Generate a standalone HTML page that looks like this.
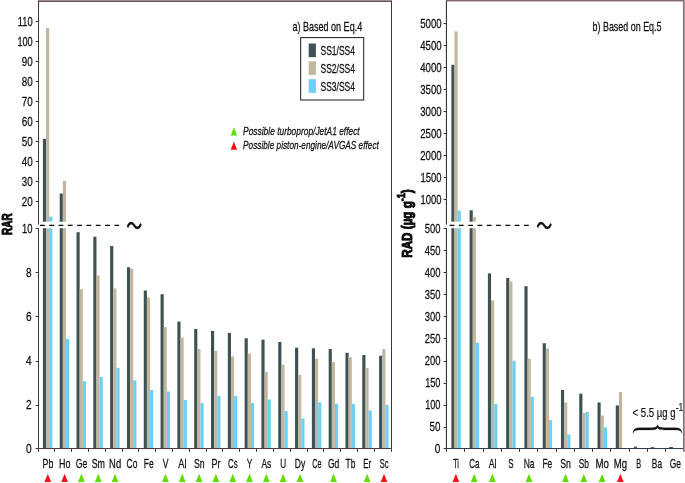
<!DOCTYPE html>
<html lang="en"><head><meta charset="utf-8"><title>RAR and RAD bar charts</title>
<style>
html,body{margin:0;padding:0;background:#fff;}
svg{display:block;font-family:"Liberation Sans", sans-serif;will-change:transform;filter:grayscale(0);}
text{stroke:currentColor;stroke-width:0.27px;stroke-linejoin:round;}
</style></head><body>
<svg width="685" height="483" viewBox="0 0 685 483">
<rect width="685" height="483" fill="#fff"/>
<g id="panelA">
<rect x="42.90" y="138.80" width="3.15" height="309.75" fill="#3e5254"/>
<rect x="46.05" y="28.00" width="3.15" height="420.55" fill="#c2b69e"/>
<rect x="49.20" y="216.70" width="3.15" height="231.85" fill="#6dcff6"/>
<rect x="59.71" y="193.60" width="3.15" height="254.95" fill="#3e5254"/>
<rect x="62.86" y="181.00" width="3.15" height="267.55" fill="#c2b69e"/>
<rect x="66.01" y="338.90" width="3.15" height="109.65" fill="#6dcff6"/>
<rect x="76.52" y="232.20" width="3.15" height="216.35" fill="#3e5254"/>
<rect x="79.67" y="289.20" width="3.15" height="159.35" fill="#c2b69e"/>
<rect x="82.82" y="381.20" width="3.15" height="67.35" fill="#6dcff6"/>
<rect x="93.33" y="236.70" width="3.15" height="211.85" fill="#3e5254"/>
<rect x="96.48" y="275.40" width="3.15" height="173.15" fill="#c2b69e"/>
<rect x="99.63" y="376.90" width="3.15" height="71.65" fill="#6dcff6"/>
<rect x="110.14" y="246.00" width="3.15" height="202.55" fill="#3e5254"/>
<rect x="113.29" y="288.40" width="3.15" height="160.15" fill="#c2b69e"/>
<rect x="116.44" y="367.80" width="3.15" height="80.75" fill="#6dcff6"/>
<rect x="126.95" y="267.30" width="3.15" height="181.25" fill="#3e5254"/>
<rect x="130.10" y="268.80" width="3.15" height="179.75" fill="#c2b69e"/>
<rect x="133.25" y="380.40" width="3.15" height="68.15" fill="#6dcff6"/>
<rect x="143.76" y="290.50" width="3.15" height="158.05" fill="#3e5254"/>
<rect x="146.91" y="297.50" width="3.15" height="151.05" fill="#c2b69e"/>
<rect x="150.06" y="390.00" width="3.15" height="58.55" fill="#6dcff6"/>
<rect x="160.57" y="294.20" width="3.15" height="154.35" fill="#3e5254"/>
<rect x="163.72" y="327.10" width="3.15" height="121.45" fill="#c2b69e"/>
<rect x="166.87" y="391.50" width="3.15" height="57.05" fill="#6dcff6"/>
<rect x="177.38" y="321.60" width="3.15" height="126.95" fill="#3e5254"/>
<rect x="180.53" y="337.70" width="3.15" height="110.85" fill="#c2b69e"/>
<rect x="183.68" y="400.00" width="3.15" height="48.55" fill="#6dcff6"/>
<rect x="194.19" y="328.90" width="3.15" height="119.65" fill="#3e5254"/>
<rect x="197.34" y="349.00" width="3.15" height="99.55" fill="#c2b69e"/>
<rect x="200.49" y="403.00" width="3.15" height="45.55" fill="#6dcff6"/>
<rect x="211.00" y="330.90" width="3.15" height="117.65" fill="#3e5254"/>
<rect x="214.15" y="350.80" width="3.15" height="97.75" fill="#c2b69e"/>
<rect x="217.30" y="396.00" width="3.15" height="52.55" fill="#6dcff6"/>
<rect x="227.81" y="332.90" width="3.15" height="115.65" fill="#3e5254"/>
<rect x="230.96" y="356.50" width="3.15" height="92.05" fill="#c2b69e"/>
<rect x="234.11" y="396.00" width="3.15" height="52.55" fill="#6dcff6"/>
<rect x="244.62" y="338.20" width="3.15" height="110.35" fill="#3e5254"/>
<rect x="247.77" y="353.50" width="3.15" height="95.05" fill="#c2b69e"/>
<rect x="250.92" y="403.00" width="3.15" height="45.55" fill="#6dcff6"/>
<rect x="261.43" y="339.70" width="3.15" height="108.85" fill="#3e5254"/>
<rect x="264.58" y="372.10" width="3.15" height="76.45" fill="#c2b69e"/>
<rect x="267.73" y="399.50" width="3.15" height="49.05" fill="#6dcff6"/>
<rect x="278.24" y="342.00" width="3.15" height="106.55" fill="#3e5254"/>
<rect x="281.39" y="364.60" width="3.15" height="83.95" fill="#c2b69e"/>
<rect x="284.54" y="411.00" width="3.15" height="37.55" fill="#6dcff6"/>
<rect x="295.05" y="347.70" width="3.15" height="100.85" fill="#3e5254"/>
<rect x="298.20" y="374.90" width="3.15" height="73.65" fill="#c2b69e"/>
<rect x="301.35" y="418.60" width="3.15" height="29.95" fill="#6dcff6"/>
<rect x="311.86" y="348.30" width="3.15" height="100.25" fill="#3e5254"/>
<rect x="315.01" y="358.70" width="3.15" height="89.85" fill="#c2b69e"/>
<rect x="318.16" y="402.30" width="3.15" height="46.25" fill="#6dcff6"/>
<rect x="328.67" y="349.00" width="3.15" height="99.55" fill="#3e5254"/>
<rect x="331.82" y="362.20" width="3.15" height="86.35" fill="#c2b69e"/>
<rect x="334.97" y="403.80" width="3.15" height="44.75" fill="#6dcff6"/>
<rect x="345.48" y="352.80" width="3.15" height="95.75" fill="#3e5254"/>
<rect x="348.63" y="357.20" width="3.15" height="91.35" fill="#c2b69e"/>
<rect x="351.78" y="403.80" width="3.15" height="44.75" fill="#6dcff6"/>
<rect x="362.29" y="355.00" width="3.15" height="93.55" fill="#3e5254"/>
<rect x="365.44" y="368.00" width="3.15" height="80.55" fill="#c2b69e"/>
<rect x="368.59" y="410.50" width="3.15" height="38.05" fill="#6dcff6"/>
<rect x="379.10" y="355.70" width="3.15" height="92.85" fill="#3e5254"/>
<rect x="382.25" y="349.00" width="3.15" height="99.55" fill="#c2b69e"/>
<rect x="385.40" y="404.80" width="3.15" height="43.75" fill="#6dcff6"/>
</g>
<g id="panelB">
<rect x="451.35" y="64.80" width="3.15" height="383.75" fill="#3e5254"/>
<rect x="454.50" y="31.40" width="3.15" height="417.15" fill="#c2b69e"/>
<rect x="457.65" y="210.60" width="3.15" height="237.95" fill="#6dcff6"/>
<rect x="469.62" y="210.30" width="3.15" height="238.25" fill="#3e5254"/>
<rect x="472.77" y="217.00" width="3.15" height="231.55" fill="#c2b69e"/>
<rect x="475.92" y="342.70" width="3.15" height="105.85" fill="#6dcff6"/>
<rect x="487.89" y="273.40" width="3.15" height="175.15" fill="#3e5254"/>
<rect x="491.04" y="300.30" width="3.15" height="148.25" fill="#c2b69e"/>
<rect x="494.19" y="404.00" width="3.15" height="44.55" fill="#6dcff6"/>
<rect x="506.16" y="277.90" width="3.15" height="170.65" fill="#3e5254"/>
<rect x="509.31" y="281.40" width="3.15" height="167.15" fill="#c2b69e"/>
<rect x="512.46" y="360.80" width="3.15" height="87.75" fill="#6dcff6"/>
<rect x="524.43" y="286.20" width="3.15" height="162.35" fill="#3e5254"/>
<rect x="527.58" y="358.80" width="3.15" height="89.75" fill="#c2b69e"/>
<rect x="530.73" y="396.70" width="3.15" height="51.85" fill="#6dcff6"/>
<rect x="542.70" y="343.20" width="3.15" height="105.35" fill="#3e5254"/>
<rect x="545.85" y="348.50" width="3.15" height="100.05" fill="#c2b69e"/>
<rect x="549.00" y="420.10" width="3.15" height="28.45" fill="#6dcff6"/>
<rect x="560.97" y="390.00" width="3.15" height="58.55" fill="#3e5254"/>
<rect x="564.12" y="402.50" width="3.15" height="46.05" fill="#c2b69e"/>
<rect x="567.27" y="434.60" width="3.15" height="13.95" fill="#6dcff6"/>
<rect x="579.24" y="393.70" width="3.15" height="54.85" fill="#3e5254"/>
<rect x="582.39" y="413.00" width="3.15" height="35.55" fill="#c2b69e"/>
<rect x="585.54" y="412.00" width="3.15" height="36.55" fill="#6dcff6"/>
<rect x="597.51" y="402.50" width="3.15" height="46.05" fill="#3e5254"/>
<rect x="600.66" y="415.60" width="3.15" height="32.95" fill="#c2b69e"/>
<rect x="603.81" y="427.30" width="3.15" height="21.25" fill="#6dcff6"/>
<rect x="615.78" y="405.40" width="3.15" height="43.15" fill="#3e5254"/>
<rect x="618.93" y="392.00" width="3.15" height="56.55" fill="#c2b69e"/>
<rect x="633.9" y="446.6" width="2.9" height="1.9" fill="#3e5254"/>
<rect x="637.0999999999999" y="447.8" width="2.6" height="0.5" fill="#c2b69e"/>
<rect x="650.7" y="447.1" width="3.3" height="1.4" fill="#3e5254"/>
<rect x="654.3" y="447.8" width="2.6" height="0.5" fill="#c2b69e"/>
<rect x="669.2" y="447.0" width="3.8" height="1.5" fill="#3e5254"/>
<rect x="673.3" y="447.8" width="2.6" height="0.5" fill="#c2b69e"/>
</g>
<rect x="30" y="221.7" width="100" height="6.5" fill="#fff"/>
<rect x="440" y="221.7" width="100" height="6.5" fill="#fff"/>
<rect x="445" y="1" width="1" height="450" fill="#f6e2e6"/>
<rect x="38.0" y="0" width="354.0" height="1" fill="#9c8990"/>
<rect x="38.0" y="1" width="354.0" height="1" fill="#6a565f"/>
<path d="M38.5,224.6 V1 M391.5,1 V448.55 H38.5 V228.2" fill="none" stroke="#45333c" stroke-width="1"/>
<rect x="446.0" y="0" width="238.5" height="1" fill="#707070"/>
<rect x="446.0" y="1" width="238.5" height="1" fill="#e2b4c0"/>
<path d="M446.5,224.6 V1 M684.5,448.55 H446.5 V228.2" fill="none" stroke="#2e3640" stroke-width="1"/>
<rect x="683.0" y="1" width="1" height="450.75" fill="#8f6a78"/>
<rect x="684.0" y="1" width="1" height="450.75" fill="#a39aa0"/>
<line x1="40" y1="225.4" x2="122" y2="225.4" stroke="#000" stroke-width="1.15" stroke-dasharray="4.75 4.55"/>
<line x1="449.6" y1="225.4" x2="529.6" y2="225.4" stroke="#000" stroke-width="1.15" stroke-dasharray="4.75 4.55"/>
<text transform="translate(134.2,234.4) scale(0.70,1)" x="0" y="0" text-anchor="middle" font-size="23" font-weight="500" font-family="&quot;Noto Sans CJK JP&quot;, &quot;DejaVu Sans&quot;, sans-serif" fill="#111" stroke="none">〜</text>
<text transform="translate(544.3,234.4) scale(0.70,1)" x="0" y="0" text-anchor="middle" font-size="23" font-weight="500" font-family="&quot;Noto Sans CJK JP&quot;, &quot;DejaVu Sans&quot;, sans-serif" fill="#111" stroke="none">〜</text>
<line x1="35.6" y1="448.50" x2="38.5" y2="448.50" stroke="#45333c" stroke-width="1"/>
<text x="25.95" y="453.10" font-size="12.3" textLength="5.60" lengthAdjust="spacingAndGlyphs" fill="#1d1d1d" stroke="#1d1d1d" >0</text>
<line x1="35.6" y1="405.50" x2="38.5" y2="405.50" stroke="#45333c" stroke-width="1"/>
<text x="25.95" y="408.98" font-size="12.3" textLength="5.60" lengthAdjust="spacingAndGlyphs" fill="#1d1d1d" stroke="#1d1d1d" >2</text>
<line x1="35.6" y1="361.50" x2="38.5" y2="361.50" stroke="#45333c" stroke-width="1"/>
<text x="25.95" y="364.86" font-size="12.3" textLength="5.60" lengthAdjust="spacingAndGlyphs" fill="#1d1d1d" stroke="#1d1d1d" >4</text>
<line x1="35.6" y1="316.50" x2="38.5" y2="316.50" stroke="#45333c" stroke-width="1"/>
<text x="25.95" y="320.74" font-size="12.3" textLength="5.60" lengthAdjust="spacingAndGlyphs" fill="#1d1d1d" stroke="#1d1d1d" >6</text>
<line x1="35.6" y1="272.50" x2="38.5" y2="272.50" stroke="#45333c" stroke-width="1"/>
<text x="25.95" y="276.62" font-size="12.3" textLength="5.60" lengthAdjust="spacingAndGlyphs" fill="#1d1d1d" stroke="#1d1d1d" >8</text>
<line x1="35.6" y1="228.50" x2="38.5" y2="228.50" stroke="#45333c" stroke-width="1"/>
<text x="21.90" y="233.05" font-size="12.3" textLength="10.50" lengthAdjust="spacingAndGlyphs" fill="#1d1d1d" stroke="#1d1d1d" >10</text>
<line x1="35.6" y1="201.50" x2="38.5" y2="201.50" stroke="#45333c" stroke-width="1"/>
<text x="21.80" y="206.15" font-size="12.3" textLength="10.90" lengthAdjust="spacingAndGlyphs" fill="#1d1d1d" stroke="#1d1d1d" >20</text>
<line x1="35.6" y1="181.50" x2="38.5" y2="181.50" stroke="#45333c" stroke-width="1"/>
<text x="21.80" y="186.15" font-size="12.3" textLength="10.90" lengthAdjust="spacingAndGlyphs" fill="#1d1d1d" stroke="#1d1d1d" >30</text>
<line x1="35.6" y1="161.50" x2="38.5" y2="161.50" stroke="#45333c" stroke-width="1"/>
<text x="21.80" y="166.15" font-size="12.3" textLength="10.90" lengthAdjust="spacingAndGlyphs" fill="#1d1d1d" stroke="#1d1d1d" >40</text>
<line x1="35.6" y1="141.50" x2="38.5" y2="141.50" stroke="#45333c" stroke-width="1"/>
<text x="21.80" y="146.15" font-size="12.3" textLength="10.90" lengthAdjust="spacingAndGlyphs" fill="#1d1d1d" stroke="#1d1d1d" >50</text>
<line x1="35.6" y1="121.50" x2="38.5" y2="121.50" stroke="#45333c" stroke-width="1"/>
<text x="21.80" y="126.15" font-size="12.3" textLength="10.90" lengthAdjust="spacingAndGlyphs" fill="#1d1d1d" stroke="#1d1d1d" >60</text>
<line x1="35.6" y1="101.50" x2="38.5" y2="101.50" stroke="#45333c" stroke-width="1"/>
<text x="21.80" y="106.15" font-size="12.3" textLength="10.90" lengthAdjust="spacingAndGlyphs" fill="#1d1d1d" stroke="#1d1d1d" >70</text>
<line x1="35.6" y1="81.50" x2="38.5" y2="81.50" stroke="#45333c" stroke-width="1"/>
<text x="21.80" y="86.15" font-size="12.3" textLength="10.90" lengthAdjust="spacingAndGlyphs" fill="#1d1d1d" stroke="#1d1d1d" >80</text>
<line x1="35.6" y1="61.50" x2="38.5" y2="61.50" stroke="#45333c" stroke-width="1"/>
<text x="21.80" y="66.15" font-size="12.3" textLength="10.90" lengthAdjust="spacingAndGlyphs" fill="#1d1d1d" stroke="#1d1d1d" >90</text>
<line x1="35.6" y1="41.50" x2="38.5" y2="41.50" stroke="#45333c" stroke-width="1"/>
<text x="17.40" y="46.15" font-size="12.3" textLength="15.30" lengthAdjust="spacingAndGlyphs" fill="#1d1d1d" stroke="#1d1d1d" >100</text>
<line x1="35.6" y1="21.50" x2="38.5" y2="21.50" stroke="#45333c" stroke-width="1"/>
<text x="17.80" y="26.15" font-size="12.3" textLength="14.90" lengthAdjust="spacingAndGlyphs" fill="#1d1d1d" stroke="#1d1d1d" >110</text>
<line x1="38.50" y1="448.55" x2="38.50" y2="451.85" stroke="#45333c" stroke-width="1"/>
<line x1="54.50" y1="448.55" x2="54.50" y2="451.85" stroke="#45333c" stroke-width="1"/>
<line x1="71.50" y1="448.55" x2="71.50" y2="451.85" stroke="#45333c" stroke-width="1"/>
<line x1="88.50" y1="448.55" x2="88.50" y2="451.85" stroke="#45333c" stroke-width="1"/>
<line x1="105.50" y1="448.55" x2="105.50" y2="451.85" stroke="#45333c" stroke-width="1"/>
<line x1="122.50" y1="448.55" x2="122.50" y2="451.85" stroke="#45333c" stroke-width="1"/>
<line x1="138.50" y1="448.55" x2="138.50" y2="451.85" stroke="#45333c" stroke-width="1"/>
<line x1="155.50" y1="448.55" x2="155.50" y2="451.85" stroke="#45333c" stroke-width="1"/>
<line x1="172.50" y1="448.55" x2="172.50" y2="451.85" stroke="#45333c" stroke-width="1"/>
<line x1="189.50" y1="448.55" x2="189.50" y2="451.85" stroke="#45333c" stroke-width="1"/>
<line x1="206.50" y1="448.55" x2="206.50" y2="451.85" stroke="#45333c" stroke-width="1"/>
<line x1="222.50" y1="448.55" x2="222.50" y2="451.85" stroke="#45333c" stroke-width="1"/>
<line x1="239.50" y1="448.55" x2="239.50" y2="451.85" stroke="#45333c" stroke-width="1"/>
<line x1="256.50" y1="448.55" x2="256.50" y2="451.85" stroke="#45333c" stroke-width="1"/>
<line x1="273.50" y1="448.55" x2="273.50" y2="451.85" stroke="#45333c" stroke-width="1"/>
<line x1="290.50" y1="448.55" x2="290.50" y2="451.85" stroke="#45333c" stroke-width="1"/>
<line x1="307.50" y1="448.55" x2="307.50" y2="451.85" stroke="#45333c" stroke-width="1"/>
<line x1="323.50" y1="448.55" x2="323.50" y2="451.85" stroke="#45333c" stroke-width="1"/>
<line x1="340.50" y1="448.55" x2="340.50" y2="451.85" stroke="#45333c" stroke-width="1"/>
<line x1="357.50" y1="448.55" x2="357.50" y2="451.85" stroke="#45333c" stroke-width="1"/>
<line x1="374.50" y1="448.55" x2="374.50" y2="451.85" stroke="#45333c" stroke-width="1"/>
<line x1="391.50" y1="448.55" x2="391.50" y2="451.85" stroke="#45333c" stroke-width="1"/>
<line x1="443.6" y1="448.50" x2="446.5" y2="448.50" stroke="#33303a" stroke-width="1"/>
<text x="434.85" y="453.10" font-size="12.3" textLength="5.60" lengthAdjust="spacingAndGlyphs" fill="#1d1d1d" stroke="#1d1d1d" >0</text>
<line x1="443.6" y1="427.50" x2="446.5" y2="427.50" stroke="#33303a" stroke-width="1"/>
<text x="429.55" y="431.04" font-size="12.3" textLength="10.90" lengthAdjust="spacingAndGlyphs" fill="#1d1d1d" stroke="#1d1d1d" >50</text>
<line x1="443.6" y1="405.50" x2="446.5" y2="405.50" stroke="#33303a" stroke-width="1"/>
<text x="425.15" y="408.98" font-size="12.3" textLength="15.30" lengthAdjust="spacingAndGlyphs" fill="#1d1d1d" stroke="#1d1d1d" >100</text>
<line x1="443.6" y1="383.50" x2="446.5" y2="383.50" stroke="#33303a" stroke-width="1"/>
<text x="425.15" y="386.92" font-size="12.3" textLength="15.30" lengthAdjust="spacingAndGlyphs" fill="#1d1d1d" stroke="#1d1d1d" >150</text>
<line x1="443.6" y1="361.50" x2="446.5" y2="361.50" stroke="#33303a" stroke-width="1"/>
<text x="424.75" y="364.86" font-size="12.3" textLength="15.70" lengthAdjust="spacingAndGlyphs" fill="#1d1d1d" stroke="#1d1d1d" >200</text>
<line x1="443.6" y1="338.50" x2="446.5" y2="338.50" stroke="#33303a" stroke-width="1"/>
<text x="424.75" y="342.80" font-size="12.3" textLength="15.70" lengthAdjust="spacingAndGlyphs" fill="#1d1d1d" stroke="#1d1d1d" >250</text>
<line x1="443.6" y1="316.50" x2="446.5" y2="316.50" stroke="#33303a" stroke-width="1"/>
<text x="424.75" y="320.74" font-size="12.3" textLength="15.70" lengthAdjust="spacingAndGlyphs" fill="#1d1d1d" stroke="#1d1d1d" >300</text>
<line x1="443.6" y1="294.50" x2="446.5" y2="294.50" stroke="#33303a" stroke-width="1"/>
<text x="424.75" y="298.68" font-size="12.3" textLength="15.70" lengthAdjust="spacingAndGlyphs" fill="#1d1d1d" stroke="#1d1d1d" >350</text>
<line x1="443.6" y1="272.50" x2="446.5" y2="272.50" stroke="#33303a" stroke-width="1"/>
<text x="424.75" y="276.62" font-size="12.3" textLength="15.70" lengthAdjust="spacingAndGlyphs" fill="#1d1d1d" stroke="#1d1d1d" >400</text>
<line x1="443.6" y1="250.50" x2="446.5" y2="250.50" stroke="#33303a" stroke-width="1"/>
<text x="424.75" y="254.56" font-size="12.3" textLength="15.70" lengthAdjust="spacingAndGlyphs" fill="#1d1d1d" stroke="#1d1d1d" >450</text>
<line x1="443.6" y1="228.50" x2="446.5" y2="228.50" stroke="#33303a" stroke-width="1"/>
<text x="424.75" y="233.05" font-size="12.3" textLength="15.70" lengthAdjust="spacingAndGlyphs" fill="#1d1d1d" stroke="#1d1d1d" >500</text>
<line x1="443.6" y1="199.50" x2="446.5" y2="199.50" stroke="#33303a" stroke-width="1"/>
<text x="420.60" y="203.55" font-size="12.3" textLength="21.00" lengthAdjust="spacingAndGlyphs" fill="#1d1d1d" stroke="#1d1d1d" >1000</text>
<line x1="443.6" y1="177.50" x2="446.5" y2="177.50" stroke="#33303a" stroke-width="1"/>
<text x="420.60" y="181.61" font-size="12.3" textLength="21.00" lengthAdjust="spacingAndGlyphs" fill="#1d1d1d" stroke="#1d1d1d" >1500</text>
<line x1="443.6" y1="155.50" x2="446.5" y2="155.50" stroke="#33303a" stroke-width="1"/>
<text x="420.20" y="159.67" font-size="12.3" textLength="21.40" lengthAdjust="spacingAndGlyphs" fill="#1d1d1d" stroke="#1d1d1d" >2000</text>
<line x1="443.6" y1="133.50" x2="446.5" y2="133.50" stroke="#33303a" stroke-width="1"/>
<text x="420.20" y="137.73" font-size="12.3" textLength="21.40" lengthAdjust="spacingAndGlyphs" fill="#1d1d1d" stroke="#1d1d1d" >2500</text>
<line x1="443.6" y1="111.50" x2="446.5" y2="111.50" stroke="#33303a" stroke-width="1"/>
<text x="420.20" y="115.79" font-size="12.3" textLength="21.40" lengthAdjust="spacingAndGlyphs" fill="#1d1d1d" stroke="#1d1d1d" >3000</text>
<line x1="443.6" y1="89.50" x2="446.5" y2="89.50" stroke="#33303a" stroke-width="1"/>
<text x="420.20" y="93.85" font-size="12.3" textLength="21.40" lengthAdjust="spacingAndGlyphs" fill="#1d1d1d" stroke="#1d1d1d" >3500</text>
<line x1="443.6" y1="67.50" x2="446.5" y2="67.50" stroke="#33303a" stroke-width="1"/>
<text x="420.20" y="71.91" font-size="12.3" textLength="21.40" lengthAdjust="spacingAndGlyphs" fill="#1d1d1d" stroke="#1d1d1d" >4000</text>
<line x1="443.6" y1="45.50" x2="446.5" y2="45.50" stroke="#33303a" stroke-width="1"/>
<text x="420.20" y="49.97" font-size="12.3" textLength="21.40" lengthAdjust="spacingAndGlyphs" fill="#1d1d1d" stroke="#1d1d1d" >4500</text>
<line x1="443.6" y1="23.50" x2="446.5" y2="23.50" stroke="#33303a" stroke-width="1"/>
<text x="420.20" y="28.03" font-size="12.3" textLength="21.40" lengthAdjust="spacingAndGlyphs" fill="#1d1d1d" stroke="#1d1d1d" >5000</text>
<line x1="446.50" y1="448.55" x2="446.50" y2="451.85" stroke="#33303a" stroke-width="1"/>
<line x1="464.50" y1="448.55" x2="464.50" y2="451.85" stroke="#33303a" stroke-width="1"/>
<line x1="483.50" y1="448.55" x2="483.50" y2="451.85" stroke="#33303a" stroke-width="1"/>
<line x1="501.50" y1="448.55" x2="501.50" y2="451.85" stroke="#33303a" stroke-width="1"/>
<line x1="519.50" y1="448.55" x2="519.50" y2="451.85" stroke="#33303a" stroke-width="1"/>
<line x1="537.50" y1="448.55" x2="537.50" y2="451.85" stroke="#33303a" stroke-width="1"/>
<line x1="556.50" y1="448.55" x2="556.50" y2="451.85" stroke="#33303a" stroke-width="1"/>
<line x1="574.50" y1="448.55" x2="574.50" y2="451.85" stroke="#33303a" stroke-width="1"/>
<line x1="592.50" y1="448.55" x2="592.50" y2="451.85" stroke="#33303a" stroke-width="1"/>
<line x1="610.50" y1="448.55" x2="610.50" y2="451.85" stroke="#33303a" stroke-width="1"/>
<line x1="629.50" y1="448.55" x2="629.50" y2="451.85" stroke="#33303a" stroke-width="1"/>
<line x1="647.50" y1="448.55" x2="647.50" y2="451.85" stroke="#33303a" stroke-width="1"/>
<line x1="665.50" y1="448.55" x2="665.50" y2="451.85" stroke="#33303a" stroke-width="1"/>
<text x="42.55" y="468.00" font-size="12.6" textLength="10.71" lengthAdjust="spacingAndGlyphs" fill="#1d1d1d" stroke="#1d1d1d" >Pb</text>
<polygon points="47.80,473.80 51.15,481.90 44.45,481.90" fill="#f5101c"/>
<text x="59.00" y="468.00" font-size="12.6" textLength="11.42" lengthAdjust="spacingAndGlyphs" fill="#1d1d1d" stroke="#1d1d1d" >Ho</text>
<polygon points="64.61,473.80 67.96,481.90 61.26,481.90" fill="#f5101c"/>
<text x="75.81" y="468.00" font-size="12.6" textLength="11.42" lengthAdjust="spacingAndGlyphs" fill="#1d1d1d" stroke="#1d1d1d" >Ge</text>
<polygon points="81.42,473.80 84.77,481.90 78.07,481.90" fill="#5fdd00"/>
<text x="91.70" y="468.00" font-size="12.6" textLength="13.26" lengthAdjust="spacingAndGlyphs" fill="#1d1d1d" stroke="#1d1d1d" >Sm</text>
<polygon points="98.23,473.80 101.58,481.90 94.88,481.90" fill="#5fdd00"/>
<text x="109.12" y="468.00" font-size="12.6" textLength="12.04" lengthAdjust="spacingAndGlyphs" fill="#1d1d1d" stroke="#1d1d1d" >Nd</text>
<polygon points="115.04,473.80 118.39,481.90 111.69,481.90" fill="#5fdd00"/>
<text x="126.54" y="468.00" font-size="12.6" textLength="10.81" lengthAdjust="spacingAndGlyphs" fill="#1d1d1d" stroke="#1d1d1d" >Co</text>
<text x="143.86" y="468.00" font-size="12.6" textLength="9.79" lengthAdjust="spacingAndGlyphs" fill="#1d1d1d" stroke="#1d1d1d" >Fe</text>
<text x="162.71" y="468.00" font-size="12.6" textLength="5.71" lengthAdjust="spacingAndGlyphs" fill="#1d1d1d" stroke="#1d1d1d" >V</text>
<polygon points="165.47,473.80 168.82,481.90 162.12,481.90" fill="#5fdd00"/>
<text x="178.25" y="468.00" font-size="12.6" textLength="8.26" lengthAdjust="spacingAndGlyphs" fill="#1d1d1d" stroke="#1d1d1d" >Al</text>
<polygon points="182.28,473.80 185.63,481.90 178.93,481.90" fill="#5fdd00"/>
<text x="193.89" y="468.00" font-size="12.6" textLength="10.61" lengthAdjust="spacingAndGlyphs" fill="#1d1d1d" stroke="#1d1d1d" >Sn</text>
<polygon points="199.09,473.80 202.44,481.90 195.74,481.90" fill="#5fdd00"/>
<text x="211.51" y="468.00" font-size="12.6" textLength="8.98" lengthAdjust="spacingAndGlyphs" fill="#1d1d1d" stroke="#1d1d1d" >Pr</text>
<polygon points="215.90,473.80 219.25,481.90 212.55,481.90" fill="#5fdd00"/>
<text x="228.02" y="468.00" font-size="12.6" textLength="9.59" lengthAdjust="spacingAndGlyphs" fill="#1d1d1d" stroke="#1d1d1d" >Cs</text>
<polygon points="232.71,473.80 236.06,481.90 229.36,481.90" fill="#5fdd00"/>
<text x="246.76" y="468.00" font-size="12.6" textLength="5.71" lengthAdjust="spacingAndGlyphs" fill="#1d1d1d" stroke="#1d1d1d" >Y</text>
<polygon points="249.52,473.80 252.87,481.90 246.17,481.90" fill="#5fdd00"/>
<text x="261.53" y="468.00" font-size="12.6" textLength="9.79" lengthAdjust="spacingAndGlyphs" fill="#1d1d1d" stroke="#1d1d1d" >As</text>
<polygon points="266.33,473.80 269.68,481.90 262.98,481.90" fill="#5fdd00"/>
<text x="280.28" y="468.00" font-size="12.6" textLength="5.92" lengthAdjust="spacingAndGlyphs" fill="#1d1d1d" stroke="#1d1d1d" >U</text>
<polygon points="283.14,473.80 286.49,481.90 279.79,481.90" fill="#5fdd00"/>
<text x="294.85" y="468.00" font-size="12.6" textLength="10.40" lengthAdjust="spacingAndGlyphs" fill="#1d1d1d" stroke="#1d1d1d" >Dy</text>
<polygon points="299.95,473.80 303.30,481.90 296.60,481.90" fill="#5fdd00"/>
<text x="312.27" y="468.00" font-size="12.6" textLength="9.18" lengthAdjust="spacingAndGlyphs" fill="#1d1d1d" stroke="#1d1d1d" >Ce</text>
<text x="327.96" y="468.00" font-size="12.6" textLength="11.42" lengthAdjust="spacingAndGlyphs" fill="#1d1d1d" stroke="#1d1d1d" >Gd</text>
<polygon points="333.57,473.80 336.92,481.90 330.22,481.90" fill="#5fdd00"/>
<text x="345.58" y="468.00" font-size="12.6" textLength="9.79" lengthAdjust="spacingAndGlyphs" fill="#1d1d1d" stroke="#1d1d1d" >Tb</text>
<text x="363.31" y="468.00" font-size="12.6" textLength="7.96" lengthAdjust="spacingAndGlyphs" fill="#1d1d1d" stroke="#1d1d1d" >Er</text>
<polygon points="367.19,473.80 370.54,481.90 363.84,481.90" fill="#5fdd00"/>
<text x="379.71" y="468.00" font-size="12.6" textLength="8.77" lengthAdjust="spacingAndGlyphs" fill="#1d1d1d" stroke="#1d1d1d" >Sc</text>
<polygon points="384.00,473.80 387.35,481.90 380.65,481.90" fill="#f5101c"/>
<text x="453.14" y="468.00" font-size="12.6" textLength="5.71" lengthAdjust="spacingAndGlyphs" fill="#1d1d1d" stroke="#1d1d1d" >Ti</text>
<polygon points="455.90,473.80 459.25,481.90 452.55,481.90" fill="#f5101c"/>
<text x="469.17" y="468.00" font-size="12.6" textLength="10.20" lengthAdjust="spacingAndGlyphs" fill="#1d1d1d" stroke="#1d1d1d" >Ca</text>
<polygon points="474.17,473.80 477.52,481.90 470.82,481.90" fill="#5fdd00"/>
<text x="488.66" y="468.00" font-size="12.6" textLength="7.75" lengthAdjust="spacingAndGlyphs" fill="#1d1d1d" stroke="#1d1d1d" >Al</text>
<polygon points="492.44,473.80 495.79,481.90 489.09,481.90" fill="#5fdd00"/>
<text x="508.16" y="468.00" font-size="12.6" textLength="5.30" lengthAdjust="spacingAndGlyphs" fill="#1d1d1d" stroke="#1d1d1d" >S</text>
<text x="523.67" y="468.00" font-size="12.6" textLength="10.81" lengthAdjust="spacingAndGlyphs" fill="#1d1d1d" stroke="#1d1d1d" >Na</text>
<polygon points="528.98,473.80 532.33,481.90 525.63,481.90" fill="#5fdd00"/>
<text x="542.45" y="468.00" font-size="12.6" textLength="9.79" lengthAdjust="spacingAndGlyphs" fill="#1d1d1d" stroke="#1d1d1d" >Fe</text>
<text x="560.32" y="468.00" font-size="12.6" textLength="10.61" lengthAdjust="spacingAndGlyphs" fill="#1d1d1d" stroke="#1d1d1d" >Sn</text>
<polygon points="565.52,473.80 568.87,481.90 562.17,481.90" fill="#5fdd00"/>
<text x="578.79" y="468.00" font-size="12.6" textLength="10.20" lengthAdjust="spacingAndGlyphs" fill="#1d1d1d" stroke="#1d1d1d" >Sb</text>
<polygon points="583.79,473.80 587.14,481.90 580.44,481.90" fill="#5fdd00"/>
<text x="595.43" y="468.00" font-size="12.6" textLength="13.46" lengthAdjust="spacingAndGlyphs" fill="#1d1d1d" stroke="#1d1d1d" >Mo</text>
<polygon points="602.06,473.80 605.41,481.90 598.71,481.90" fill="#5fdd00"/>
<text x="613.80" y="468.00" font-size="12.6" textLength="13.26" lengthAdjust="spacingAndGlyphs" fill="#1d1d1d" stroke="#1d1d1d" >Mg</text>
<polygon points="620.33,473.80 623.68,481.90 616.98,481.90" fill="#f5101c"/>
<text x="636.25" y="468.00" font-size="12.6" textLength="4.90" lengthAdjust="spacingAndGlyphs" fill="#1d1d1d" stroke="#1d1d1d" >B</text>
<text x="651.87" y="468.00" font-size="12.6" textLength="10.20" lengthAdjust="spacingAndGlyphs" fill="#1d1d1d" stroke="#1d1d1d" >Ba</text>
<text x="669.63" y="468.00" font-size="12.6" textLength="11.22" lengthAdjust="spacingAndGlyphs" fill="#1d1d1d" stroke="#1d1d1d" >Ge</text>
<text x="292.40" y="30.90" font-size="12.8" textLength="69.80" lengthAdjust="spacingAndGlyphs" fill="#1d1d1d" stroke="#1d1d1d" >a) Based on Eq.4</text>
<text x="592.50" y="30.80" font-size="12.8" textLength="69.00" lengthAdjust="spacingAndGlyphs" fill="#1d1d1d" stroke="#1d1d1d" >b) Based on Eq.5</text>
<rect x="300.7" y="37.6" width="63" height="62.4" fill="#fff" stroke="#1a1a1a" stroke-width="1"/>
<rect x="308.7" y="43.50" width="7.2" height="13.7" fill="#3e5254"/>
<text x="320.50" y="55.00" font-size="13.2" textLength="34.50" lengthAdjust="spacingAndGlyphs" fill="#1d1d1d" stroke="#1d1d1d" >SS1/SS4</text>
<rect x="308.7" y="61.35" width="7.2" height="13.7" fill="#c2b69e"/>
<text x="320.50" y="72.85" font-size="13.2" textLength="34.50" lengthAdjust="spacingAndGlyphs" fill="#1d1d1d" stroke="#1d1d1d" >SS2/SS4</text>
<rect x="308.7" y="79.20" width="7.2" height="13.7" fill="#6dcff6"/>
<text x="320.50" y="90.70" font-size="13.2" textLength="34.50" lengthAdjust="spacingAndGlyphs" fill="#1d1d1d" stroke="#1d1d1d" >SS3/SS4</text>
<polygon points="233.90,127.20 237.10,135.50 230.70,135.50" fill="#5fdd00"/>
<polygon points="233.90,141.50 237.10,149.80 230.70,149.80" fill="#f5101c"/>
<text x="243.10" y="135.10" font-size="11.6" textLength="116.60" lengthAdjust="spacingAndGlyphs" font-style="italic" fill="#1d1d1d" stroke="#1d1d1d" >Possible turboprop/JetA1 effect</text>
<text x="243.10" y="149.40" font-size="11.6" textLength="135.70" lengthAdjust="spacingAndGlyphs" font-style="italic" fill="#1d1d1d" stroke="#1d1d1d" >Possible piston-engine/AVGAS effect</text>
<g transform="translate(11.5,224.1) rotate(-90)">
<text x="-10.80" y="0.00" font-size="14.2" textLength="21.60" lengthAdjust="spacingAndGlyphs" font-weight="bold" fill="#111" stroke="#111" style="stroke-width:0.9px">RAR</text>
</g>
<g transform="translate(412.0,223.5) rotate(-90)">
<text x="-34.2" y="0" font-size="14.2" font-weight="bold" fill="#111" stroke="#111" style="stroke-width:0.9px" textLength="68.4" lengthAdjust="spacingAndGlyphs">RAD (µg g<tspan dy="-6.8" font-size="11">-1</tspan><tspan dy="6.8">)</tspan></text>
</g>
<text x="632.6" y="416.9" font-size="12.4" fill="#1d1d1d" stroke="#1d1d1d" style="stroke-width:0.2px" textLength="50.6" lengthAdjust="spacingAndGlyphs">&lt; 5.5 µg g<tspan dy="-6.2" font-size="11">-1</tspan></text>
<path d="M633.1,433.2 C633.3,428.6 635.5,427.8 641,427.8 L650,427.8 C654.5,427.8 657,427.6 657.6,424.6 C658.2,427.6 660.7,427.8 665.2,427.8 L674,427.8 C679.5,427.8 681.7,428.6 681.9,433.2 C681.3,430.6 679.5,429.9 674,429.9 L665.2,429.9 C660.5,429.9 658.4,429.7 657.6,427.6 C656.8,429.7 654.7,429.9 650,429.9 L641,429.9 C635.5,429.9 633.7,430.6 633.1,433.2 Z" fill="#111" stroke="#111" stroke-width="0.3" stroke-linejoin="round"/>
</svg>
</body></html>
